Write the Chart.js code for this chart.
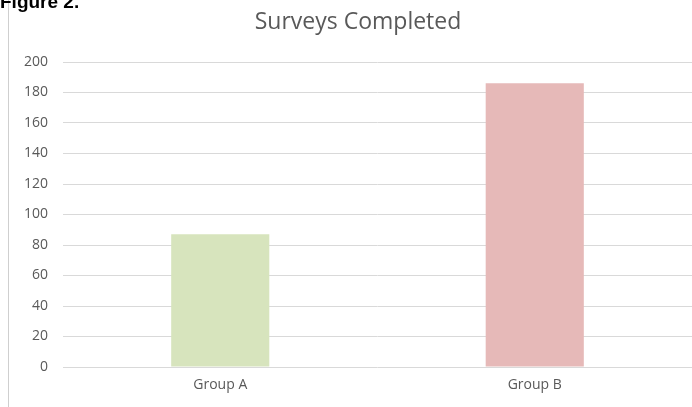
<!DOCTYPE html>
<html>
<head>
<meta charset="utf-8">
<script src="https://cdn.jsdelivr.net/npm/chart.js@4"></script>
<style>
  html, body { margin: 0; padding: 0; background: #fff; }
  #wrap { width: 692px; height: 407px; position: relative; }
</style>
</head>
<body>
<div id="wrap"><canvas id="myChart"></canvas></div>
<script>
const chartTitle = "Surveys Completed";
const figureLabel = "Figure 2.";
const groups = ["Group A", "Group B"];
const surveys = [87, 186];
const barColors = ["#d7e4bd", "#e6b9b8"];
const yTicks = [0, 20, 40, 60, 80, 100, 120, 140, 160, 180, 200];

// page decorations + title drawn on the canvas
const decor = {
    id: "decor",
    afterDraw(chart) {
        const c = chart.ctx;
        c.save();
        c.strokeStyle = "#cfcfcf";
        c.lineWidth = 1;
        c.beginPath();
        c.moveTo(8.5, 0);
        c.lineTo(8.5, 407);
        c.stroke();

        c.fillStyle = "#000";
        c.font = "bold 19px 'Liberation Sans', Arial";
        c.textBaseline = "alphabetic";
        c.fillText(figureLabel, 0, 8);

        c.fillStyle = "#595959";
        c.font = "23px 'Open Sans'";
        c.textAlign = "center";
        c.textBaseline = "middle";
        c.fillText(chartTitle, 358, 22);
        c.restore();
    }
};

const ctx = document.getElementById("myChart");

const myChart = new Chart(ctx, {
    type: "bar",
    data: {
        labels: groups,
        datasets: [{
            label: chartTitle,
            data: surveys,
            backgroundColor: barColors,
            borderWidth: 0,
            categoryPercentage: 1,
            barPercentage: 0.312
        }]
    },
    options: {
        responsive: true,
        maintainAspectRatio: false,
        animation: false,
        layout: { padding: { top: 62, left: 0, right: 0, bottom: 0 } },
        plugins: {
            legend: { display: false },
            tooltip: { enabled: false },
            title: { display: false }
        },
        scales: {
            x: {
                grid: { display: false, drawTicks: false },
                border: { display: false },
                ticks: {
                    color: "#595959",
                    padding: 10,
                    font: { family: "'Open Sans'", size: 14 }
                },
                afterFit: (scale) => { scale.height = 40; }
            },
            y: {
                min: 0,
                max: 200,
                afterBuildTicks: (scale) => { scale.ticks = yTicks.map(v => ({ value: v })); },
                grid: { color: "#d9d9d9", drawTicks: false },
                border: { display: false },
                ticks: {
                    color: "#595959",
                    padding: 15,
                    font: { family: "'Open Sans'", size: 14 }
                },
                afterFit: (scale) => { scale.width = 63; }
            }
        }
    },
    plugins: [decor]
});
</script>
</body>
</html>
